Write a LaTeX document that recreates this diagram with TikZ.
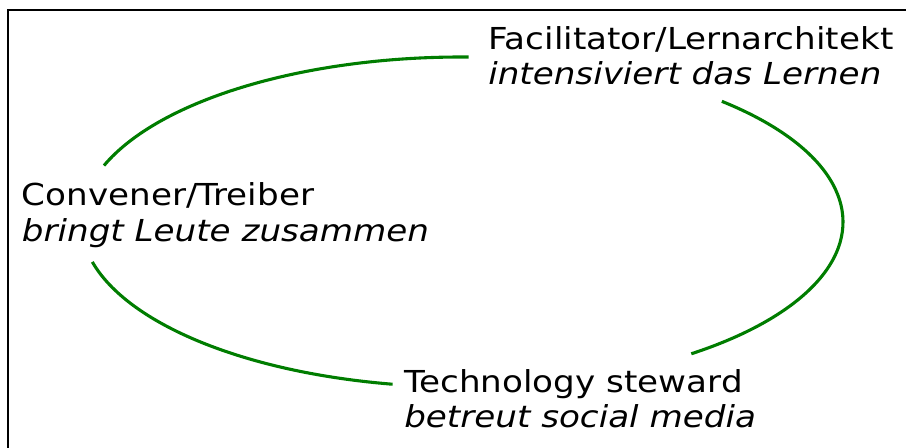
\documentclass[tikz,border=0pt]{standalone}
\usepackage{fontspec}
\setmainfont{DejaVu Sans}[FakeStretch=1.13]
\usepackage{tikz}
\usetikzlibrary{positioning}
\definecolor{ringgreen}{RGB}{0,125,0}
\tikzset{role/.style={
    % The shape:
    rectangle,
    inner sep=0pt,
    % Text (base = last line):
    align=left,
    anchor=base west,
    font=\fontsize{21.5}{25.4}\selectfont
    },
    ring/.style={
    draw=ringgreen,
    line width=2.2pt,
    },
    frame/.style={
    draw=black,
    line width=1.4pt,
    },
}

\begin{document}
\begin{tikzpicture}
    \useasboundingbox (0,0) rectangle (22.65,11.2);
    \draw[frame] (0.2,0) -- (0.2,10.96) -- (22.65,10.96);

    \coordinate (mid) at (11.55,5.65);

    \node (facil) [role] at (12.2,9.075)  {Facilitator/Lernarchitekt\\\textit{intensiviert das Lernen}};
    \node (conv)  [role] at (0.54,5.16)   {Convener/Treiber\\\textit{bringt Leute zusammen}};
    \node (tech)  [role] at (10.1,0.5)    {Technology steward\\\textit{betreut social media}};

    \draw[ring] ([shift={(160:9.525 and 4.125)}]mid) arc[start angle=160, end angle=89, x radius=9.525, y radius=4.125];
    \draw[ring] ([shift={(47:9.525 and 4.125)}]mid) arc[start angle=47, end angle=-53, x radius=9.525, y radius=4.125];
    \draw[ring] ([shift={(259.5:9.525 and 4.125)}]mid) arc[start angle=259.5, end angle=194, x radius=9.525, y radius=4.125];
\end{tikzpicture}
\end{document}
